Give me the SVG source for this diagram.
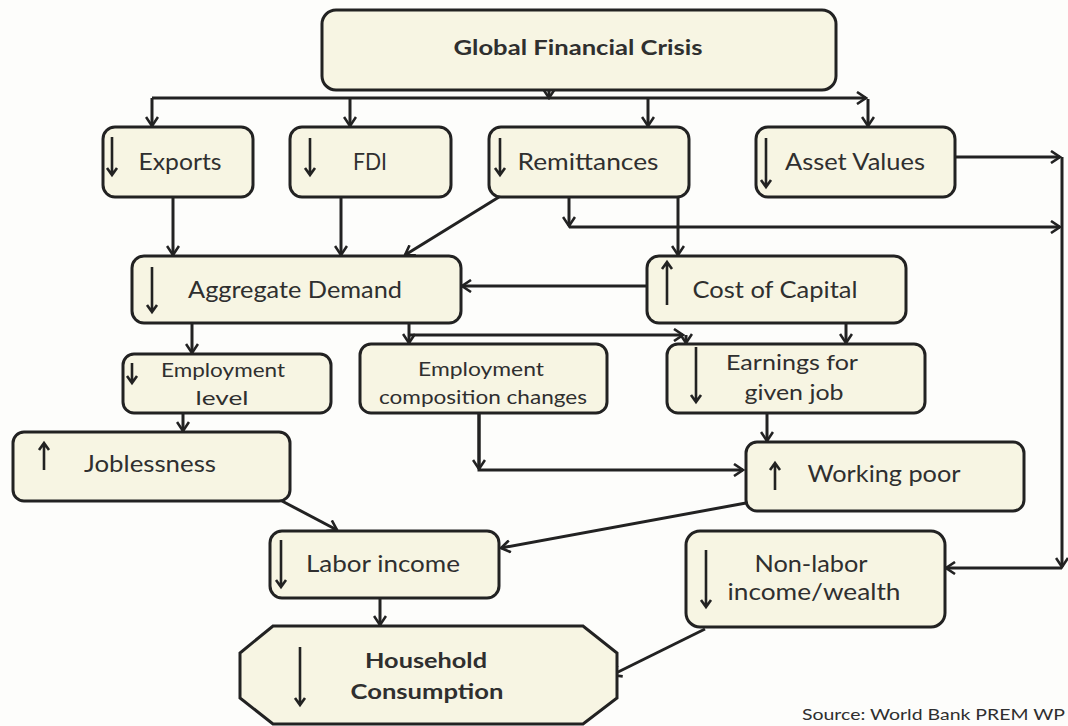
<svg xmlns="http://www.w3.org/2000/svg" width="1068" height="726" viewBox="0 0 1068 726">
<defs>
<style>
.box{fill:#f7f5e3;stroke:#222;stroke-width:3}
.t{font-family:Lato,"Open Sans",sans-serif;fill:#2f2f2f;text-anchor:middle;font-size:23px}
.s{font-size:19px}
.m{font-size:21px}
.b{font-weight:bold;font-size:20px}
.c{fill:none;stroke:#222;stroke-width:3}
.g{fill:none;stroke:#222;stroke-width:2.6}
</style>
<marker id="ah" markerWidth="12" markerHeight="14" refX="10" refY="7" orient="auto" markerUnits="userSpaceOnUse">
<path d="M1,1 L10,7 L1,13" fill="none" stroke="#222" stroke-width="2.6"/>
</marker>
</defs>
<rect width="1068" height="726" fill="#fdfdfb"/>

<g id="connectors">
<path class="c" d="M549,90 L549,98" marker-end="url(#ah)"/>
<path class="c" d="M152,98 L866,98" marker-end="url(#ah)"/>
<path class="c" d="M152,98 L152,126" marker-end="url(#ah)"/>
<path class="c" d="M350,98 L350,126" marker-end="url(#ah)"/>
<path class="c" d="M648,98 L648,126" marker-end="url(#ah)"/>
<path class="c" d="M868,99 L868,126" marker-end="url(#ah)"/>
<path class="c" d="M173,197 L173,255" marker-end="url(#ah)"/>
<path class="c" d="M341,197 L341,255" marker-end="url(#ah)"/>
<path class="c" d="M499,197 L405,255" marker-end="url(#ah)"/>
<path class="c" d="M569,197 L569,226" marker-end="url(#ah)"/>
<path class="c" d="M569,227 L1060,227" marker-end="url(#ah)"/>
<path class="c" d="M678,197 L678,255" marker-end="url(#ah)"/>
<path class="c" d="M955,157 L1060,157" marker-end="url(#ah)"/>
<path class="c" d="M1062,157 L1062,567" marker-end="url(#ah)"/>
<path class="c" d="M1062,568 L946,568" marker-end="url(#ah)"/>
<path class="c" d="M647,286 L462,286" marker-end="url(#ah)"/>
<path class="c" d="M192,323 L192,353" marker-end="url(#ah)"/>
<path class="c" d="M409,323 L409,343" marker-end="url(#ah)"/>
<path class="c" d="M409,335 L683,335" marker-end="url(#ah)"/>
<path class="c" d="M686,335 L686,343" marker-end="url(#ah)"/>
<path class="c" d="M846,323 L846,343" marker-end="url(#ah)"/>
<path class="c" d="M183,413 L183,431" marker-end="url(#ah)"/>
<path class="c" d="M479,413 L479,470 L743,470" marker-end="url(#ah)"/>
<path class="c" d="M479,413 L479,469" marker-end="url(#ah)"/>
<path class="c" d="M767,413 L767,441" marker-end="url(#ah)"/>
<path class="c" d="M282,501 L337,530" marker-end="url(#ah)"/>
<path class="c" d="M746,503 L501,548" marker-end="url(#ah)"/>
<path class="c" d="M380,598 L380,625" marker-end="url(#ah)"/>
<path class="c" d="M705,629 L612,675" marker-end="url(#ah)"/>
</g>

<g id="gfc">
<rect class="box" x="322" y="10" width="514" height="80" rx="14"/>
<text class="t b" x="578" y="55" textLength="249" lengthAdjust="spacingAndGlyphs">Global Financial Crisis</text>
</g>

<g id="exports">
<rect class="box" x="103" y="127" width="150" height="70" rx="12"/>
<path class="g" d="M112,137 L112,175 M107,168 L112,175 L117,168"/>
<text class="t" x="180" y="170" textLength="83" lengthAdjust="spacingAndGlyphs">Exports</text>
</g>

<g id="fdi">
<rect class="box" x="290" y="127" width="161" height="70" rx="12"/>
<path class="g" d="M310,138 L310,175 M305,168 L310,175 L315,168"/>
<text class="t" x="370" y="170" textLength="34" lengthAdjust="spacingAndGlyphs">FDI</text>
</g>

<g id="remittances">
<rect class="box" x="489" y="127" width="200" height="70" rx="12"/>
<path class="g" d="M500,138 L500,175 M495,168 L500,175 L505,168"/>
<text class="t" x="588" y="170" textLength="141" lengthAdjust="spacingAndGlyphs">Remittances</text>
</g>

<g id="assets">
<rect class="box" x="756" y="127" width="199" height="70" rx="12"/>
<path class="g" d="M766,138 L766,187 M761,180 L766,187 L771,180"/>
<text class="t" x="855" y="170" textLength="140" lengthAdjust="spacingAndGlyphs">Asset Values</text>
</g>

<g id="aggdemand">
<rect class="box" x="132" y="256" width="329" height="67" rx="12"/>
<path class="g" d="M152,267 L152,312 M147,305 L152,312 L157,305"/>
<text class="t" x="295" y="298" textLength="214" lengthAdjust="spacingAndGlyphs">Aggregate Demand</text>
</g>

<g id="costcapital">
<rect class="box" x="647" y="256" width="259" height="67" rx="12"/>
<path class="g" d="M667,305 L667,262 M662,269 L667,262 L672,269"/>
<text class="t" x="775" y="298" textLength="165" lengthAdjust="spacingAndGlyphs">Cost of Capital</text>
</g>

<g id="emplevel">
<rect class="box" x="123" y="354" width="208" height="59" rx="11"/>
<path class="g" d="M132,363 L132,383 M127,376 L132,383 L137,376"/>
<text class="t s" x="223" y="377" textLength="124" lengthAdjust="spacingAndGlyphs">Employment</text>
<text class="t s" x="222" y="405" textLength="53" lengthAdjust="spacingAndGlyphs">level</text>
</g>

<g id="empcomp">
<rect class="box" x="360" y="344" width="247" height="69" rx="11"/>
<text class="t s" x="481" y="376" textLength="126" lengthAdjust="spacingAndGlyphs">Employment</text>
<text class="t s" x="483" y="404" textLength="208" lengthAdjust="spacingAndGlyphs">composition changes</text>
</g>

<g id="earnings">
<rect class="box" x="667" y="344" width="258" height="69" rx="11"/>
<path class="g" d="M696,347 L696,402 M691,395 L696,402 L701,395"/>
<text class="t m" x="792" y="370" textLength="132" lengthAdjust="spacingAndGlyphs">Earnings for</text>
<text class="t m" x="794" y="400" textLength="99" lengthAdjust="spacingAndGlyphs">given job</text>
</g>

<g id="joblessness">
<rect class="box" x="13" y="432" width="277" height="69" rx="11"/>
<path class="g" d="M44,470 L44,443 M39,450 L44,443 L49,450"/>
<text class="t" x="150" y="472" textLength="132" lengthAdjust="spacingAndGlyphs">Joblessness</text>
</g>

<g id="workingpoor">
<rect class="box" x="746" y="442" width="278" height="69" rx="11"/>
<path class="g" d="M775,490 L775,463 M770,470 L775,463 L780,470"/>
<text class="t" x="884" y="482" textLength="153" lengthAdjust="spacingAndGlyphs">Working poor</text>
</g>

<g id="laborincome">
<rect class="box" x="270" y="531" width="229" height="67" rx="12"/>
<path class="g" d="M281,540 L281,587 M276,580 L281,587 L286,580"/>
<text class="t" x="383" y="572" textLength="154" lengthAdjust="spacingAndGlyphs">Labor income</text>
</g>

<g id="nonlabor">
<rect class="box" x="686" y="531" width="259" height="96" rx="14"/>
<path class="g" d="M706,550 L706,607 M701,600 L706,607 L711,600"/>
<text class="t" x="811" y="572" textLength="113" lengthAdjust="spacingAndGlyphs">Non-labor</text>
<text class="t" x="814" y="600" textLength="173" lengthAdjust="spacingAndGlyphs">income/wealth</text>
</g>

<g id="household">
<path class="box" d="M273,626 L583,626 L617,653 L617,698 L583,724 L273,724 L240,698 L240,653 Z"/>
<path class="g" d="M300,647 L300,705 M295,698 L300,705 L305,698"/>
<text class="t b" x="426" y="668" textLength="122" lengthAdjust="spacingAndGlyphs">Household</text>
<text class="t b" x="427" y="699" textLength="153" lengthAdjust="spacingAndGlyphs">Consumption</text>
</g>

<g id="source">
<text class="t" x="1065" y="720" style="text-anchor:end;font-size:16px" textLength="263" lengthAdjust="spacingAndGlyphs">Source: World Bank PREM WP</text>
</g>
</svg>
